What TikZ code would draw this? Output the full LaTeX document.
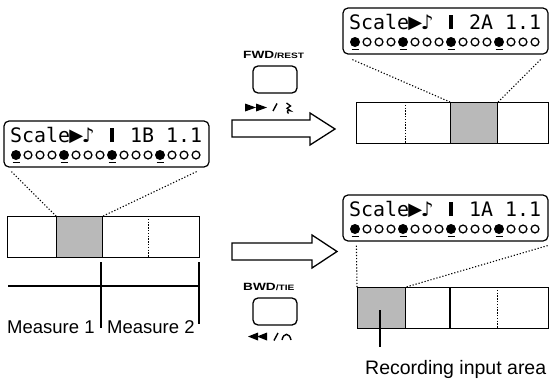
\documentclass[tikz,border=0pt]{standalone}
\usepackage{graphicx}
\usepackage{fontspec}
\setmainfont{Liberation Sans}
\newfontfamily\lcdfont{DejaVu Sans Mono}
\newfontfamily\symfont{DejaVu Sans}
\usetikzlibrary{calc}
\newcommand\lcdch[1]{\makebox[12pt][c]{#1}}
\newcommand\lcdline[1]{\lcdfont\fontsize{19.93}{20}\selectfont Scale\lcdch{\raisebox{0.5pt}{\symfont\fontsize{18}{18}\selectfont ▶}}\lcdch{\symfont\fontsize{20}{20}\selectfont ♪}\lcdch{}\lcdch{\rule{3.4pt}{14.5pt}}\lcdch{}#1\lcdch{}1.1}
\newcommand\lcdpanel[4]{%
  \node[lcd] (#1) at (#2+102.5,#3+23) {};
  \node[anchor=base west, inner sep=0pt] (#1t) at (#2+6,#3+21) {\lcdline{#4}};
  \foreach \i in {0,...,15}{%
    \pgfmathtruncatemacro\mm{mod(\i,4)}%
    \ifnum\mm=0
      \fill (#2+12+12*\i,#3+34) circle[radius=5pt];
      \draw[line width=1.2pt] (#2+8.5+12*\i,#3+41.8) -- (#2+15.5+12*\i,#3+41.8);
    \else
      \draw[line width=1.3pt] (#2+12+12*\i,#3+34) circle[radius=3.9pt];
    \fi
  }%
}
\newcommand\btnlabel[2]{\scalebox{1.3}[1]{\bfseries\fontsize{10.5}{11}\selectfont #1\fontsize{7.8}{8}\selectfont /#2}}
\begin{document}
\begin{tikzpicture}[x=1pt,y=-1pt,
  lcd/.style={draw, line width=1.2pt, rounded corners=5pt, minimum width=205pt, minimum height=46pt, inner sep=0pt},
  strip/.style={draw, line width=1.2pt, minimum height=41pt, anchor=north west, inner sep=0pt},
  cur/.style={draw, line width=1.2pt, fill=gray!55, minimum height=41pt, anchor=north west, inner sep=0pt},
  proj/.style={line width=1.1pt, dash pattern=on 1.2pt off 1.9pt},
  divd/.style={line width=1pt, dash pattern=on 1.4pt off 1.4pt},
  btn/.style={draw, line width=1.3pt, rounded corners=5pt, minimum width=44pt, minimum height=27pt, inner sep=0pt},
  bigtext/.style={font=\fontsize{18.5}{20}\selectfont, inner sep=0pt},
  arrowst/.style={draw, line width=1.3pt, fill=white},
  sym/.style={fill=black},
  plain/.style={line width=1.2pt}]
\useasboundingbox (0,0) rectangle (549,380);

% ---------- left: current state ----------
\lcdpanel{lcdL}{4}{121}{1B}
\node[strip, minimum width=192pt] (Lstrip) at (7,216) {};
\node[cur, minimum width=46pt] (Lcur) at (56,216) {};
\coordinate (Ldiv) at (148,216);
\draw[divd] (Ldiv) -- ++(0,41);
\coordinate (LpA) at ($(lcdL.south west)+(8,4)$);
\coordinate (LpB) at ($(lcdL.south east)+(-13,4)$);
\draw[proj] (LpA) -- (Lcur.north west);
\draw[proj] (LpB) -- (Lcur.north east);

% measure ruler
\coordinate (rulA) at (8,286);
\coordinate (rulB) at (200,286);
\coordinate (v1t) at (101,262);
\coordinate (v1b) at (101,328);
\coordinate (v2t) at (199,262);
\coordinate (v2b) at (199,324);
\draw[plain] (rulA) -- (rulB);
\draw[plain] (v1t) -- (v1b);
\draw[plain] (v2t) -- (v2b);
\node[bigtext, anchor=base west] (m1) at (7,333) {Measure 1};
\node[bigtext, anchor=base west] (m2) at (107,333) {Measure 2};

% ---------- top right: after FWD ----------
\lcdpanel{lcdT}{343}{8}{2A}
\node[strip, minimum width=192pt] (Tstrip) at (356,102) {};
\node[cur, minimum width=47pt] (Tcur) at (450,102) {};
\coordinate (Tdiv) at (405,102);
\draw[divd] (Tdiv) -- ++(0,41);
\coordinate (TpA) at ($(lcdT.south west)+(10,5)$);
\coordinate (TpB) at ($(lcdT.south east)+(-8,5)$);
\draw[proj] (TpA) -- (Tcur.north west);
\draw[proj] (TpB) -- (Tcur.north east);

% ---------- bottom right: after BWD ----------
\lcdpanel{lcdB}{343}{195}{1A}
\node[strip, minimum width=191pt] (Bstrip) at (357,287) {};
\node[cur, minimum width=48pt] (Bcur) at (357,287) {};
\coordinate (Bsol) at (450,287);
\draw[plain] (Bsol) -- ++(0,41);
\coordinate (Bdiv) at (497,287);
\draw[divd] (Bdiv) -- ++(0,41);
\coordinate (BpA) at ($(lcdB.south west)+(14,4)$);
\coordinate (BpB) at ($(lcdB.south east)+(-1,4)$);
\draw[proj] (BpA) -- (Bcur.north west);
\draw[proj] (BpB) -- (Bcur.north east);
\coordinate (ptrA) at (380,310);
\coordinate (ptrB) at (380,347);
\draw[plain] (ptrA) -- (ptrB);
\node[font=\fontsize{19.5}{21}\selectfont, inner sep=0pt, anchor=base west] (rec) at (365,374) {Recording input area};

% ---------- arrows ----------
\draw[arrowst] (232,120) -- (310,120) -- (310,113) -- (335,129) -- (310,145) -- (310,137) -- (232,137) -- cycle;
\draw[arrowst] (232,243) -- (312,243) -- (312,235) -- (337,251.5) -- (312,268) -- (312,260) -- (232,260) -- cycle;

% ---------- FWD button ----------
\node[anchor=base west, inner sep=0pt] (fwdl) at (243,58) {\btnlabel{FWD}{REST}};
\node[btn] (fwd) at (275,79.5) {};
\fill[sym] (245,103.5) -- (256,107.5) -- (245,111.5) -- cycle;
\fill[sym] (256,103.5) -- (267,107.5) -- (256,111.5) -- cycle;
\draw[line width=1.4pt] (273,111) -- (277,103.5);
\draw[line width=1.3pt] (286.5,103) -- (290.5,106) -- (287,108.3) -- (290.5,110.8) .. controls (288,109.8) and (286,111) .. (288.5,113.5);

% ---------- BWD button ----------
\node[anchor=base west, inner sep=0pt] (bwdl) at (243,290) {\btnlabel{BWD}{TIE}};
\node[btn] (bwd) at (275,311.5) {};
\fill[sym] (258,332.5) -- (248,336.5) -- (258,340.5) -- cycle;
\fill[sym] (267,332.5) -- (257,336.5) -- (267,340.5) -- cycle;
\draw[line width=1.4pt] (274,340.5) -- (278,333);
\draw[line width=1.4pt] (282,340) .. controls (283.5,332.5) and (289.5,332.5) .. (291,340);
\end{tikzpicture}
\end{document}
